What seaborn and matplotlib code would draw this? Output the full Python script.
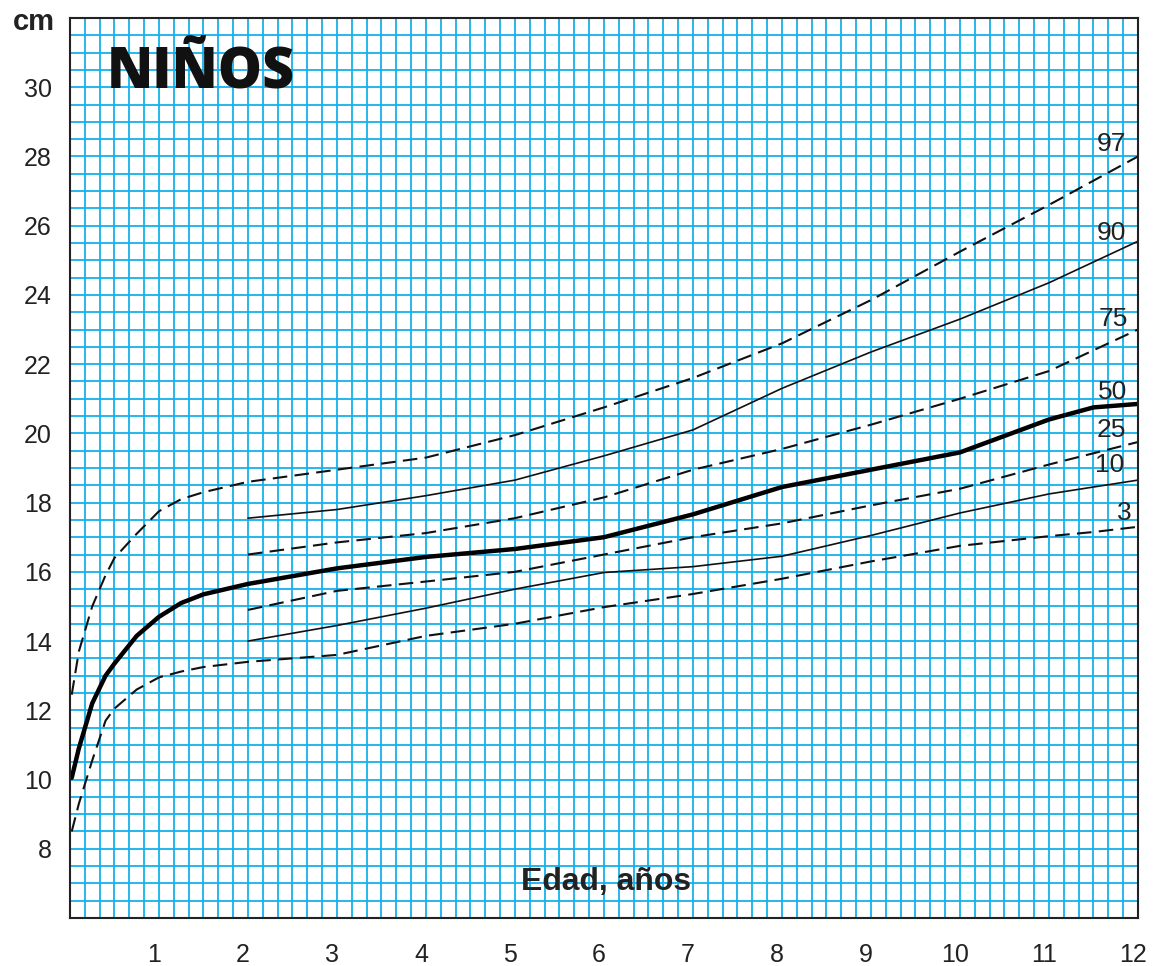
import numpy as np
import pandas as pd
import matplotlib
matplotlib.use("Agg")
import matplotlib.pyplot as plt
import matplotlib.transforms as mtransforms
import seaborn as sns

# Percentile curves (age in years, size in cm)
age_full = [0.02, 0.1, 0.25, 0.4, 0.5, 0.75, 1.0, 1.25, 1.5, 2, 3, 4, 5, 6, 7, 8, 9, 10, 11, 11.5, 12]
age_late = [2, 3, 4, 5, 6, 7, 8, 9, 10, 11, 12]

p97 = [12.45, 13.7, 15.0, 15.9, 16.4, 17.1, 17.75, 18.1, 18.3, 18.6, 18.95, 19.3, 19.95, 20.75, 21.6, 22.6,
       23.85, 25.25, 26.6, 27.3, 28.0]
p50 = [10.05, 10.9, 12.2, 13.0, 13.35, 14.15, 14.7, 15.1, 15.35, 15.65, 16.1, 16.43, 16.66, 17.0, 17.66, 18.45,
       18.95, 19.45, 20.4, 20.75, 20.85]
p3 = [8.5, 9.3, 10.55, 11.7, 12.05, 12.6, 12.95, 13.12, 13.25, 13.4, 13.6, 14.15, 14.5, 14.98, 15.36, 15.8,
      16.3, 16.75, 17.03, 17.15, 17.3]
p90 = [17.55, 17.8, 18.2, 18.65, 19.35, 20.1, 21.3, 22.35, 23.3, 24.35, 25.55]
p75 = [16.5, 16.85, 17.12, 17.55, 18.15, 18.95, 19.55, 20.25, 21.0, 21.8, 23.0]
p25 = [14.9, 15.45, 15.72, 16.0, 16.5, 17.0, 17.4, 17.92, 18.4, 19.1, 19.75]
p10 = [14.0, 14.45, 14.95, 15.5, 15.98, 16.15, 16.45, 17.05, 17.7, 18.25, 18.65]

labels = ["97", "90", "75", "50", "25", "10", "3"]
label_y = [28.35, 25.8, 23.3, 21.2, 20.1, 19.1, 17.7]
label_x = [11.7, 11.7, 11.72, 11.72, 11.7, 11.68, 11.85]

x_ticks = list(range(1, 13))
y_ticks = list(range(8, 31, 2))

sns.set_style("white")
plt.rcParams["font.family"] = ["Liberation Sans", "DejaVu Sans"]

fig = plt.figure(figsize=(11.6, 9.66), dpi=100)
ax = fig.add_axes([0.0603, 0.0497, 0.9207, 0.9317])

grid_col = "#14b1ec"
ax.set_xlim(0, 12)
ax.set_ylim(6, 32)
ax.set_xticks(x_ticks)
ax.set_xticks(np.arange(0, 12.01, 1 / 6), minor=True)
ax.set_yticks(y_ticks)
ax.set_yticks(np.arange(6, 32.01, 0.5), minor=True)
ax.grid(which="both", color=grid_col, linewidth=1.3)
ax.set_axisbelow(True)

dash = (0, (7, 3.5))
sns.lineplot(x=age_full, y=p97, ax=ax, color="#111111", linewidth=1.5, linestyle=dash)
sns.lineplot(x=age_full, y=p3, ax=ax, color="#111111", linewidth=1.5, linestyle=dash)
sns.lineplot(x=age_full, y=p50, ax=ax, color="#000000", linewidth=3.2)
sns.lineplot(x=age_late, y=p90, ax=ax, color="#111111", linewidth=1.2)
sns.lineplot(x=age_late, y=p10, ax=ax, color="#111111", linewidth=1.2)
sns.lineplot(x=age_late, y=p75, ax=ax, color="#111111", linewidth=1.5, linestyle=dash)
sns.lineplot(x=age_late, y=p25, ax=ax, color="#111111", linewidth=1.5, linestyle=dash)

for lab, lx, ly in zip(labels, label_x, label_y):
    ax.text(lx, ly, lab, fontsize=19, color="#222222", ha="center", va="center")

ax.tick_params(axis="both", which="both", length=0, labelsize=18, labelcolor="#222222")
ax.tick_params(axis="x", pad=18)
ax.tick_params(axis="y", pad=13)
shift = mtransforms.ScaledTranslation(-0.05, 0, fig.dpi_scale_trans)
for lbl in ax.get_xticklabels():
    lbl.set_transform(lbl.get_transform() + shift)
for s in ax.spines.values():
    s.set_color("#222222")
    s.set_linewidth(1.5)

ax.text(0.41, 30.4, "NIÑOS", fontsize=40, fontweight="heavy", color="#111111",
        ha="left", va="center", family=["Open Sans", "DejaVu Sans"])
fig.text(0.029, 0.977, "cm", fontsize=21, fontweight="bold", color="#222222", ha="center", va="center")
ax.text(6.02, 7.05, "Edad, años", fontsize=23, fontweight="bold", color="#222222", ha="center", va="center")

fig.savefig("out.png", dpi=100)
